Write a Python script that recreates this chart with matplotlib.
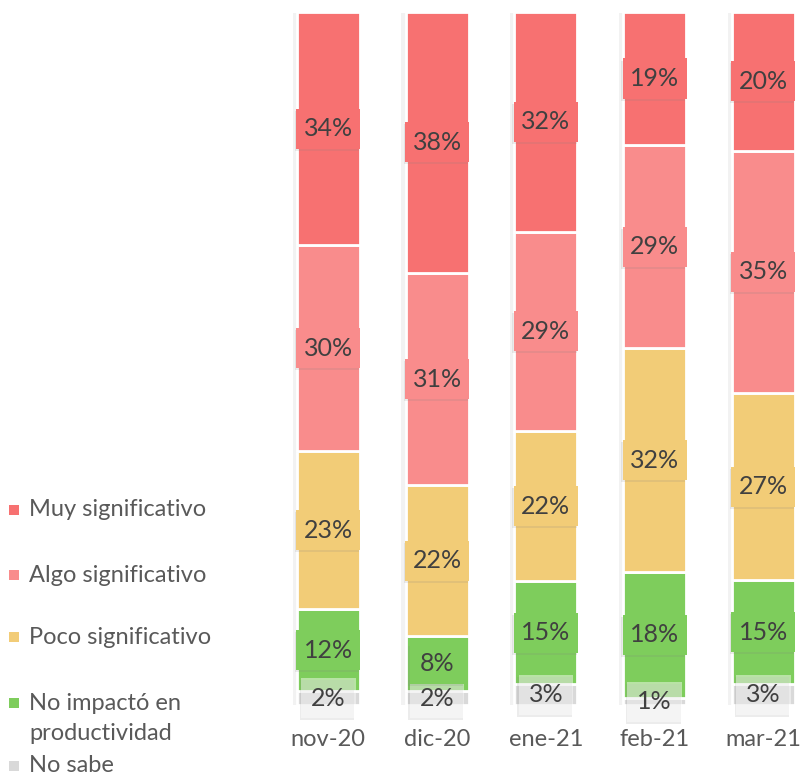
import matplotlib
matplotlib.use("Agg")
import matplotlib.pyplot as plt
import matplotlib.patheffects as pe
from matplotlib.patches import Rectangle
import numpy as np

months = ["nov-20", "dic-20", "ene-21", "feb-21", "mar-21"]
series_names = ["No sabe", "No impactó en\nproductividad", "Poco significativo",
                "Algo significativo", "Muy significativo"]
no_sabe = [2, 2, 3, 1, 3]
no_impacto = [12, 8, 15, 18, 15]
poco = [23, 22, 22, 32, 27]
algo = [30, 31, 29, 29, 35]
muy = [34, 38, 32, 19, 20]
colors = ["#D9D9D9", "#7ECD5C", "#F2CC77", "#F98C8C", "#F77171"]

FONT = "Lato"
plt.rcParams["font.family"] = [FONT, "DejaVu Sans"]
FS = 17
LFS = 18

W, H = 808, 777
fig = plt.figure(figsize=(W / 100, H / 100), dpi=100)
left_px, right_px, top_px, bot_px = 274, 808, 12, 705
ax = fig.add_axes([left_px / W, (H - bot_px) / H, (right_px - left_px) / W, (bot_px - top_px) / H])
step = 108.75
ax.set_xlim(-0.5, -0.5 + (right_px - left_px) / step)
ax.set_ylim(0, 1)
for s in ax.spines.values():
    s.set_visible(False)
ax.set_yticks([])
ax.set_xticks(range(len(months)))
ax.set_xticklabels(months, fontsize=FS, color="#595959")
ax.tick_params(axis="x", length=0, pad=17)

data = np.array([no_sabe, no_impacto, poco, algo, muy], dtype=float)
totals = data.sum(axis=0)
frac = data / totals
x = np.arange(len(months))
bw = 0.58
bottom = np.zeros(len(months))
texts = []
for i in range(len(series_names)):
    bars = ax.bar(x, frac[i], bw, bottom=bottom, color=colors[i], edgecolor="white",
                  linewidth=2, zorder=2)
    for b in bars:
        b.set_path_effects([pe.SimplePatchShadow(offset=(-3, -1), shadow_rgbFace="#808080", alpha=0.1),
                            pe.Normal()])
    for j in range(len(months)):
        yc = bottom[j] + frac[i][j] / 2
        face = colors[i] if i > 0 else (1, 1, 1, 0.45)
        t = ax.text(x[j], yc, f"{int(data[i][j])}%", ha="center", va="center",
                    fontsize=LFS, color="#404040", zorder=6)
        texts.append((t, face, x[j], yc))
    bottom += frac[i]

# label boxes sized like Excel data-label shapes
fig.canvas.draw()
renderer = fig.canvas.get_renderer()
px_per_x = ax.transData.transform((1, 0))[0] - ax.transData.transform((0, 0))[0]
px_per_y = ax.transData.transform((0, 1))[1] - ax.transData.transform((0, 0))[1]
bar_px = bw * px_per_x
for t, face, xc, yc in texts:
    tw = t.get_window_extent(renderer).width
    wpx = min(tw + 20, bar_px + 1)
    hpx = 40
    wd, hd = wpx / px_per_x, hpx / px_per_y
    r = Rectangle((xc - wd / 2, yc - hd / 2), wd, hd, facecolor=face, edgecolor="none",
                  zorder=5, clip_on=False)
    r.set_path_effects([pe.SimplePatchShadow(offset=(-1, -1.5), shadow_rgbFace="#808080", alpha=0.15),
                        pe.Normal()])
    ax.add_patch(r)

# legend (manual, Excel-like layout)
leg_items = [("Muy significativo", colors[4], 510),
             ("Algo significativo", colors[3], 575),
             ("Poco significativo", colors[2], 637),
             ("No impactó en\nproductividad", colors[1], 703),
             ("No sabe", colors[0], 766)]
for label, c, ypx in leg_items:
    fig.patches.append(Rectangle((9 / W, (H - ypx - 5) / H), 10 / W, 10 / H,
                                 transform=fig.transFigure, facecolor=c, edgecolor="none"))
    lines = label.split("\n")
    for k, ln in enumerate(lines):
        fig.text(29 / W, (H - ypx - 31 * k) / H, ln, ha="left", va="center",
                 fontsize=FS, color="#595959")

fig.savefig("out.png", dpi=100)
